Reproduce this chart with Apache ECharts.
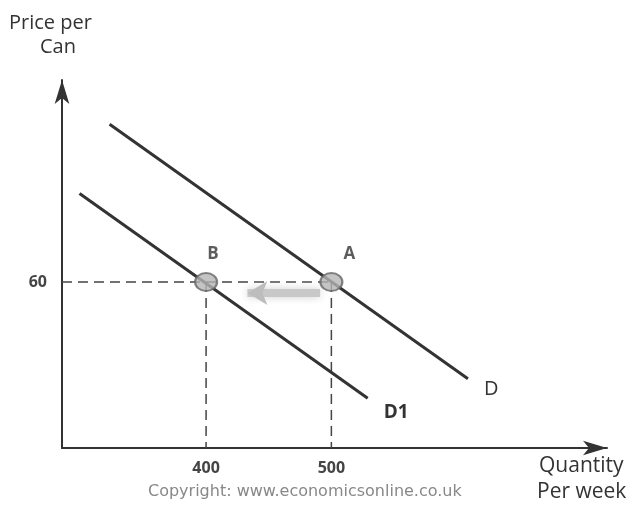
<!DOCTYPE html>
<html>
<head>
<meta charset="utf-8">
<script src="https://cdn.jsdelivr.net/npm/echarts@6/dist/echarts.min.js"></script>
<style>
  html, body { margin: 0; padding: 0; background: #fff; }
  #chart { width: 638px; height: 510px; }
</style>
</head>
<body>
<div id="chart"></div>
<script>
// demand curves (quantity, price)
const demandD = [[323, 117], [609, 25]];
const demandD1 = [[299, 92], [529, 18]];
const pointA = [500, 60];
const pointB = [400, 60];
const shiftArrow = [[491, 56], [433, 56]];
const xTicks = [400, 500];
const yTicks = [60];

const chart = echarts.init(document.getElementById('chart'));

const ink = '#333';
const dashStyle = { color: '#444', width: 1.5, type: [10, 6] };

const option = {
  animation: false,
  grid: { left: 62, top: 80, width: 545, height: 368 },
  xAxis: {
    type: 'value', min: 285, max: 720,
    axisLine: { show: true, symbol: ['none', 'arrow'], symbolSize: [11, 24], lineStyle: { color: ink, width: 2 } },
    axisTick: { show: false },
    splitLine: { show: false },
    axisLabel: {
      customValues: xTicks, color: '#444', fontSize: 16, fontWeight: 'bold',
      fontFamily: 'Open Sans', margin: 12
    }
  },
  yAxis: {
    type: 'value', min: 0, max: 133,
    axisLine: { show: true, symbol: ['none', 'arrow'], symbolSize: [11, 24], lineStyle: { color: ink, width: 2 } },
    axisTick: { show: false },
    splitLine: { show: false },
    axisLabel: {
      customValues: yTicks, color: '#444', fontSize: 16, fontWeight: 'bold',
      fontFamily: 'Open Sans', margin: 15
    }
  },
  series: [
    {
      type: 'line', data: [[285, pointA[1]], pointA], symbol: 'none',
      lineStyle: dashStyle, z: 1
    },
    {
      type: 'line', data: [pointA, [pointA[0], 0]], symbol: 'none',
      lineStyle: dashStyle, z: 1
    },
    {
      type: 'line', data: [pointB, [pointB[0], 0]], symbol: 'none',
      lineStyle: dashStyle, z: 1
    },
    {
      type: 'line', showAllSymbol: true,
      data: [
        { value: shiftArrow[0], symbol: 'none' },
        { value: shiftArrow[1], symbol: 'arrow', symbolRotate: 90, symbolSize: [18, 20] }
      ],
      lineStyle: { color: '#c8c8c8', width: 8, shadowBlur: 8, shadowColor: '#d0d0d0' },
      itemStyle: { color: '#bdbdbd', borderWidth: 0 }, z: 1
    },
    {
      type: 'line', data: demandD, symbol: 'none',
      lineStyle: { color: ink, width: 3 },
      endLabel: { show: true, formatter: 'D', fontSize: 20, color: '#333', fontFamily: 'Open Sans', offset: [8, 10] }
    },
    {
      type: 'line', data: demandD1, symbol: 'none',
      lineStyle: { color: ink, width: 3 },
      endLabel: { show: true, formatter: 'D1', fontSize: 19, fontWeight: 'bold', color: '#333', fontFamily: 'Open Sans', offset: [8, 14] }
    },
    {
      type: 'scatter', symbolSize: [22, 18],
      itemStyle: { color: '#b5b5b5', borderColor: '#666', borderWidth: 2 },
      data: [
        { value: pointA, label: { show: true, formatter: 'A', position: 'top', offset: [18, -4] } },
        { value: pointB, label: { show: true, formatter: 'B', position: 'top', offset: [7, -4] } }
      ],
      label: { fontSize: 17, fontWeight: 'bold', color: '#333', fontFamily: 'Open Sans' },
      z: 5
    }
  ],
  graphic: [
    { type: 'text', left: 9, top: 13, style: { text: 'Price per', font: '20px "Open Sans"', fill: '#333' } },
    { type: 'text', left: 40, top: 37, style: { text: 'Can', font: '20px "Open Sans"', fill: '#333' } },
    { type: 'text', left: 539, top: 456, style: { text: 'Quantity', font: '21px "Open Sans"', fill: '#333' } },
    { type: 'text', left: 537, top: 482, style: { text: 'Per week', font: '21px "Open Sans"', fill: '#333' } },
    { type: 'text', left: 148, top: 484, style: { text: 'Copyright: www.economicsonline.co.uk', font: '16px "DejaVu Sans"', fill: '#888' } }
  ]
};

chart.setOption(option);
</script>
</body>
</html>
